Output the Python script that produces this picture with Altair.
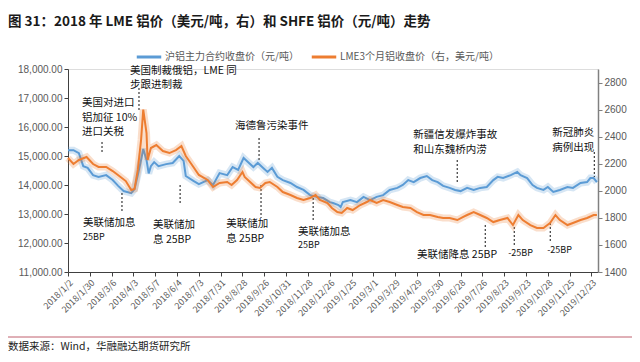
import altair as alt
import pandas as pd

# ---------------- data ----------------
SHFE_NAME = "沪铝主力合约收盘价（元/吨）"
LME_NAME = "LME3个月铝收盘价（右，美元/吨）"

# trading-day index positions of the x tick labels (every 20 trading days)
tick_labels = ["2018/1/2", "2018/1/30", "2018/3/6", "2018/4/3", "2018/5/7", "2018/6/4",
               "2018/7/3", "2018/7/31", "2018/8/28", "2018/9/26", "2018/10/31", "2018/11/28",
               "2018/12/26", "2019/1/25", "2019/3/1", "2019/3/29", "2019/4/29", "2019/5/30",
               "2019/6/28", "2019/7/26", "2019/8/23", "2019/9/23", "2019/10/28", "2019/11/25",
               "2019/12/23"]
tick_idx = [i * 20 for i in range(len(tick_labels))]

shfe_idx = [0, 5, 10, 14, 18, 23, 28, 35, 41, 46, 51, 58, 61, 64, 67, 69, 72, 74, 76, 79,
            83, 90, 96, 102, 106, 108, 115, 120, 128, 133, 139, 146, 151, 156, 161, 165, 170, 174, 179, 183,
            187, 192, 197, 204, 210, 216, 222, 228, 234, 240, 243, 248, 250, 252, 259, 265, 271, 277, 283, 289,
            295, 302, 307, 312, 317, 323, 329, 334, 339, 344, 350, 355, 360, 366, 372, 378, 384, 390, 394, 399,
            406, 412, 415, 421, 426, 430, 436, 440, 445, 451, 458, 463, 470, 476, 479, 482, 485]
shfe_val = [15200, 15200, 15100, 14650, 14590, 14340, 14280, 14340, 14170, 13970, 13790, 13720, 13860, 14340, 14860, 15240, 14860, 14400, 14650, 14790,
            14650, 14720, 14760, 15000, 14830, 14310, 14140, 14030, 14170, 14000, 14410, 14340, 14620, 14520, 14930, 14790, 14620, 14760, 14590, 14450,
            14590, 14280, 14170, 14070, 13930, 13830, 13650, 13590, 13550, 13410, 13380, 13310, 13240, 13410, 13480, 13410, 13590, 13480, 13590, 13650,
            13830, 13900, 14000, 14170, 14100, 14240, 14310, 14170, 14100, 13970, 13900, 13830, 13790, 13900, 13830, 13900, 13930, 14170, 14280, 14240,
            14340, 14450, 14340, 14240, 14000, 13900, 13830, 13930, 13760, 13830, 13930, 13900, 14070, 14100, 14240, 14240, 14100]

lme_idx = [0, 5, 10, 17, 23, 28, 35, 41, 47, 53, 58, 61, 64, 67, 69, 72, 73, 76, 81, 87,
           93, 99, 104, 108, 115, 120, 128, 133, 139, 146, 150, 155, 160, 162, 167, 172, 176, 181, 185, 192,
           197, 204, 210, 216, 222, 227, 231, 238, 242, 247, 251, 256, 261, 268, 274, 277, 283, 289, 295, 302,
           307, 314, 320, 326, 332, 339, 344, 350, 357, 362, 366, 372, 378, 384, 390, 396, 403, 408, 413, 417,
           424, 430, 436, 442, 447, 451, 458, 463, 470, 476, 482, 485]
lme_val = [2242, 2198, 2228, 2250, 2198, 2176, 2176, 2146, 2109, 2072, 2006, 2013, 2154, 2375, 2600, 2427, 2228, 2316, 2338, 2294,
           2279, 2301, 2331, 2257, 2176, 2117, 2080, 2028, 2058, 2065, 2043, 2080, 2139, 2102, 2065, 2028, 2021, 2058, 2065, 2028,
           1991, 1969, 1947, 1932, 1947, 1969, 1932, 1910, 1873, 1843, 1836, 1873, 1858, 1895, 1917, 1932, 1910, 1932, 1917, 1895,
           1880, 1873, 1843, 1821, 1821, 1806, 1799, 1799, 1784, 1806, 1821, 1843, 1821, 1799, 1769, 1784, 1799, 1747, 1821, 1784,
           1747, 1725, 1725, 1762, 1821, 1784, 1747, 1762, 1784, 1799, 1821, 1821]

# annotations (positions in trading-day index / left-axis value units)
ann_text = ["美国对进口", "铝加征 10%", "进口关税", "美国制裁俄铝，LME 同", "步跟进制裁",
            "美联储加息", "25BP", "美联储加", "息 25BP", "海德鲁污染事件", "美联储加", "息 25BP",
            "美联储加息", "25BP", "新疆信发爆炸事故", "和山东魏桥内涝", "美联储降息 25BP",
            "-25BP", "-25BP", "新冠肺炎", "病例出现"]
ann_idx = [12.8, 12.8, 12.8, 56.9, 56.9, 13.8, 13.8, 78, 78, 153.2, 145, 145,
           211, 211, 316.5, 316.5, 320, 403.7, 439.4, 444, 444]
ann_val = [16828, 16310, 15828, 17930, 17448, 12690, 12207, 12621, 12103, 16034, 12655, 12138,
           12379, 11931, 15724, 15207, 11586, 11655, 11759, 15793, 15276]
ann_size = [10.5, 10.5, 10.5, 10.5, 10.5, 10.5, 9, 10.5, 10.5, 10.5, 10.5, 10.5, 10.5, 9, 10.5, 10.5, 10.5, 9, 9, 10.5, 10.5]

rule_idx = [31.2, 65.1, 49.5, 102.8, 175.2, 177, 224.8, 356.9, 382.6, 409.2, 442.2, 482.6]
rule_top = [15483, 17345, 13724, 14000, 15621, 14000, 13552, 14862, 12621, 12552, 12690, 15138]
rule_bot = [15103, 16586, 13034, 13310, 14862, 12862, 12724, 14103, 11862, 11862, 12000, 14276]

TITLE = "图 31：2018 年 LME 铝价（美元/吨，右）和 SHFE 铝价（元/吨）走势"
SOURCE = "数据来源：Wind，华融融达期货研究所"

# ---------------- tables ----------------
df_shfe = pd.DataFrame({"idx": shfe_idx, "value": shfe_val, "series": SHFE_NAME})
df_lme = pd.DataFrame({"idx": lme_idx, "value": lme_val, "series": LME_NAME})
df_ann = pd.DataFrame({"idx": ann_idx, "value": ann_val, "text": ann_text, "size": ann_size})
df_rule = pd.DataFrame({"idx": rule_idx, "value": rule_top, "value2": rule_bot})

BLUE = "#5B9BD5"
ORANGE = "#ED7D31"
FONT = "Noto Sans CJK SC"
GREY = "#595959"

label_js = "[" + ",".join("'" + s + "'" for s in tick_labels) + "]"

x_enc = alt.X("idx:Q",
              scale=alt.Scale(domain=[0, 486], nice=False, zero=False),
              axis=alt.Axis(values=tick_idx, labelExpr=label_js + "[round(datum.value/20)]",
                            labelAngle=-45, labelFontSize=9, labelColor=GREY, labelFont=FONT,
                            tickSize=4, tickColor="#404040", domainColor="#404040",
                            grid=False, title=None, labelPadding=2, labelOverlap=False))

y_left = alt.Y("value:Q",
               scale=alt.Scale(domain=[11000, 18000], nice=False, zero=False),
               axis=alt.Axis(values=list(range(11000, 18001, 1000)), format=",.2f",
                             labelFontSize=10, labelColor=GREY, labelFont="Liberation Sans",
                             tickSize=4, tickColor="#404040", domainColor="#404040",
                             grid=False, title=None, labelPadding=2))

y_right = alt.Y("value:Q",
                scale=alt.Scale(domain=[1400, 2900], nice=False, zero=False),
                axis=alt.Axis(orient="right", values=list(range(1400, 2801, 200)), format="d",
                              labelFontSize=10, labelColor=GREY, labelFont="Liberation Sans",
                              tickSize=4, tickColor="#808080", domainColor="#808080",
                              domainWidth=1.5, grid=False, title=None, labelPadding=2))

color_enc = alt.Color("series:N",
                      scale=alt.Scale(domain=[SHFE_NAME, LME_NAME], range=[BLUE, ORANGE]),
                      legend=alt.Legend(orient="none", legendX=67, legendY=-26, direction="horizontal",
                                        title=None, symbolType="stroke", symbolSize=600,
                                        symbolStrokeWidth=3, labelFontSize=10, labelFont=FONT,
                                        labelColor=GREY, labelOffset=2, columnPadding=6))

shfe_base = alt.Chart(df_shfe)
shfe_glow = shfe_base.mark_line(strokeWidth=7, opacity=0.25, color=BLUE).encode(x=x_enc, y=y_left)
shfe_line = shfe_base.mark_line(strokeWidth=2).encode(x=x_enc, y=y_left, color=color_enc)

rules = alt.Chart(df_rule).mark_rule(color="#111111", strokeWidth=1, strokeDash=[2, 2]).encode(
    x=x_enc, y=y_left, y2="value2:Q")
texts = alt.Chart(df_ann).mark_text(align="left", baseline="middle", font=FONT, color="#111111").encode(
    x=x_enc, y=y_left, text="text:N", size=alt.Size("size:Q", scale=None, legend=None))

left_group = alt.layer(shfe_glow, shfe_line, rules, texts)

lme_base = alt.Chart(df_lme)
lme_glow = lme_base.mark_line(strokeWidth=7, opacity=0.25, color=ORANGE).encode(x=x_enc, y=y_right)
lme_line = lme_base.mark_line(strokeWidth=2).encode(x=x_enc, y=y_right, color=color_enc)
right_group = alt.layer(lme_glow, lme_line)

title_mark = alt.Chart(pd.DataFrame({"t": [TITLE]})).mark_text(
    align="left", baseline="middle", font=FONT, fontSize=13.5, fontWeight="bold", color="#1a1a1a").encode(
    text="t:N", x=alt.value(-60), y=alt.value(-47))
source_mark = alt.Chart(pd.DataFrame({"t": [SOURCE]})).mark_text(
    align="left", baseline="middle", font=FONT, fontSize=10.5, color="#222222").encode(
    text="t:N", x=alt.value(-60), y=alt.value(278))
top_line = alt.Chart(pd.DataFrame({"a": [0]})).mark_rule(color="#B8707C", strokeWidth=2).encode(
    x=alt.value(-60), x2=alt.value(564), y=alt.value(-65))
bottom_line = alt.Chart(pd.DataFrame({"a": [0]})).mark_rule(color="#C0606E", strokeWidth=1).encode(
    x=alt.value(-60), x2=alt.value(564), y=alt.value(268))

chart = alt.layer(left_group, right_group, title_mark, source_mark, top_line, bottom_line).resolve_scale(
    y="independent"
).properties(
    width=530, height=203,
    autosize=alt.AutoSizeParams(type="none"),
    padding={"left": 60, "top": 61, "right": 34, "bottom": 82},
).configure_view(stroke=None).configure(background="white")

chart.save("out.html", embed_options={"renderer": "svg", "actions": False})
